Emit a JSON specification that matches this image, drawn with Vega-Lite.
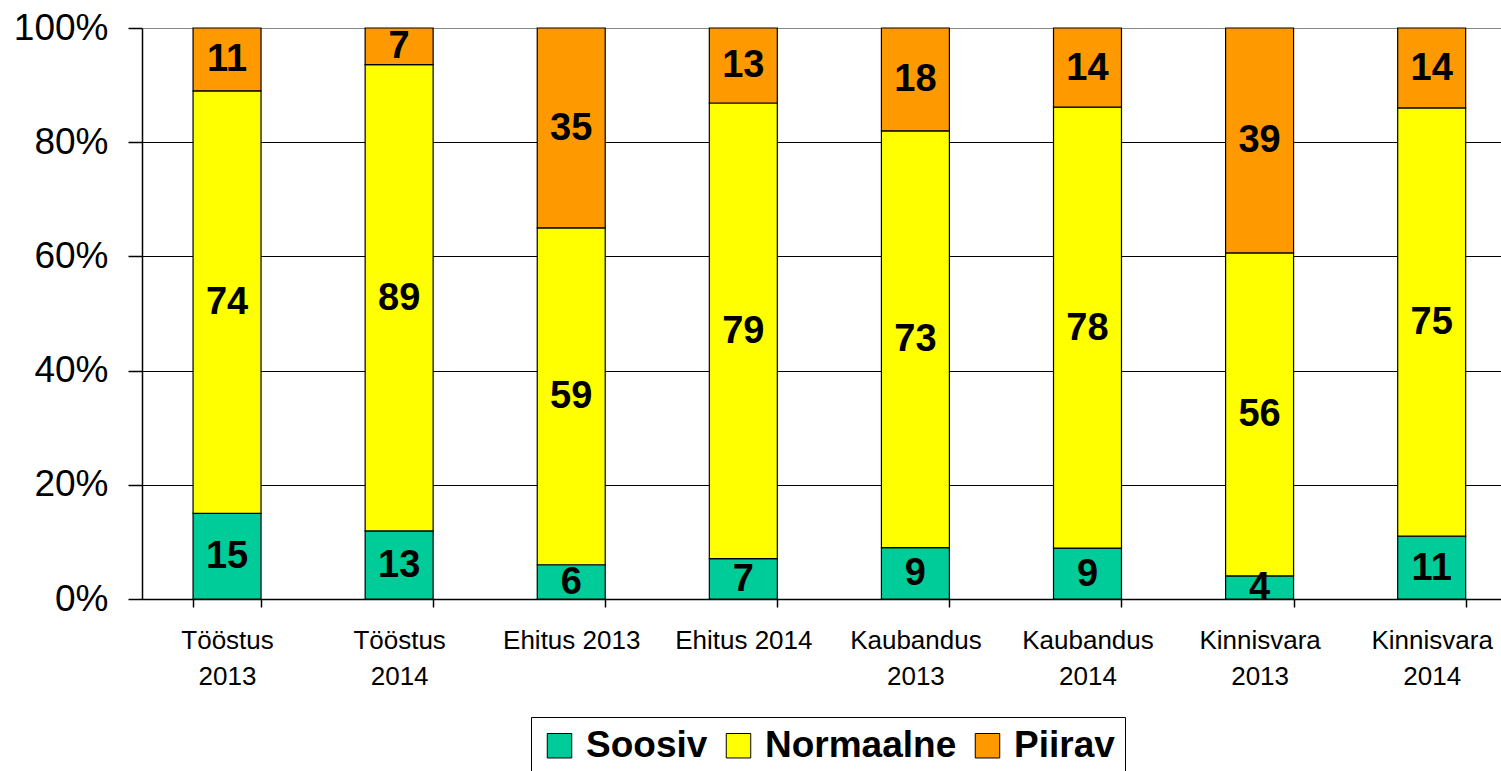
{
  "$schema": "https://vega.github.io/schema/vega-lite/v6.json",
  "width": 1359,
  "height": 571,
  "autosize": "none",
  "padding": {"left": 142, "top": 28, "right": 0, "bottom": 172},
  "background": "white",
  "config": {
    "font": "Liberation Sans",
    "view": {"stroke": null},
    "axis": {"labelColor": "black", "domainColor": "black", "tickColor": "black", "labelFont": "Liberation Sans"}
  },
  "data": {
    "values": [
      {"cat": "Tööstus 2013", "series": "Soosiv", "ord": 1, "value": 15},
      {"cat": "Tööstus 2013", "series": "Normaalne", "ord": 2, "value": 74},
      {"cat": "Tööstus 2013", "series": "Piirav", "ord": 3, "value": 11},
      {"cat": "Tööstus 2014", "series": "Soosiv", "ord": 1, "value": 13},
      {"cat": "Tööstus 2014", "series": "Normaalne", "ord": 2, "value": 89},
      {"cat": "Tööstus 2014", "series": "Piirav", "ord": 3, "value": 7},
      {"cat": "Ehitus 2013", "series": "Soosiv", "ord": 1, "value": 6},
      {"cat": "Ehitus 2013", "series": "Normaalne", "ord": 2, "value": 59},
      {"cat": "Ehitus 2013", "series": "Piirav", "ord": 3, "value": 35},
      {"cat": "Ehitus 2014", "series": "Soosiv", "ord": 1, "value": 7},
      {"cat": "Ehitus 2014", "series": "Normaalne", "ord": 2, "value": 79},
      {"cat": "Ehitus 2014", "series": "Piirav", "ord": 3, "value": 13},
      {"cat": "Kaubandus 2013", "series": "Soosiv", "ord": 1, "value": 9},
      {"cat": "Kaubandus 2013", "series": "Normaalne", "ord": 2, "value": 73},
      {"cat": "Kaubandus 2013", "series": "Piirav", "ord": 3, "value": 18},
      {"cat": "Kaubandus 2014", "series": "Soosiv", "ord": 1, "value": 9},
      {"cat": "Kaubandus 2014", "series": "Normaalne", "ord": 2, "value": 78},
      {"cat": "Kaubandus 2014", "series": "Piirav", "ord": 3, "value": 14},
      {"cat": "Kinnisvara 2013", "series": "Soosiv", "ord": 1, "value": 4},
      {"cat": "Kinnisvara 2013", "series": "Normaalne", "ord": 2, "value": 56},
      {"cat": "Kinnisvara 2013", "series": "Piirav", "ord": 3, "value": 39},
      {"cat": "Kinnisvara 2014", "series": "Soosiv", "ord": 1, "value": 11},
      {"cat": "Kinnisvara 2014", "series": "Normaalne", "ord": 2, "value": 75},
      {"cat": "Kinnisvara 2014", "series": "Piirav", "ord": 3, "value": 14}
    ]
  },
  "encoding": {
    "x": {
      "field": "cat",
      "type": "nominal",
      "sort": null,
      "title": null,
      "scale": {"paddingInner": 0.605, "paddingOuter": 0.251, "align": 0.591},
      "axis": {
        "labelAngle": 0,
        "labelFontSize": 26,
        "labelLineHeight": 36,
        "labelPadding": 20,
        "labelLimit": 300,
        "tickSize": 8,
        "tickBand": "extent",
        "domainWidth": 1.5,
        "tickWidth": 1.5,
        "labelExpr": "indexof(datum.label, 'Ehitus') == 0 ? datum.label : split(datum.label, ' ')"
      }
    }
  },
  "layer": [
    {
      "mark": {"type": "bar", "stroke": "black", "strokeWidth": 1.2},
      "encoding": {
        "y": {
          "field": "value",
          "type": "quantitative",
          "stack": "normalize",
          "title": null,
          "scale": {"domain": [0, 1], "nice": false},
          "axis": {
            "values": [0, 0.2, 0.4, 0.6, 0.8, 1],
            "format": ".0%",
            "labelFontSize": 37,
            "labelPadding": 20,
            "tickSize": 14,
            "tickWidth": 1.5,
            "domainWidth": 1.5,
            "grid": true,
            "gridColor": {"condition": {"test": "datum.value == 1", "value": "#888888"}, "value": "black"},
            "gridWidth": 1.2
          }
        },
        "order": {"field": "ord", "type": "quantitative"},
        "color": {
          "field": "series",
          "type": "nominal",
          "scale": {"domain": ["Soosiv", "Normaalne", "Piirav"], "range": ["#00CC99", "#FFFF00", "#FF9900"]},
          "legend": {
            "title": null,
            "orient": "none",
            "direction": "horizontal",
            "legendX": 389,
            "legendY": 689,
            "padding": 10,
            "strokeColor": "black",
            "fillColor": "white",
            "symbolType": "square",
            "symbolSize": 600,
            "symbolStrokeColor": "black",
            "symbolStrokeWidth": 1,
            "symbolOpacity": 1,
            "labelFontSize": 37,
            "labelFontWeight": "bold",
            "labelColor": "black",
            "labelOffset": 8,
            "columnPadding": 12,
            "labelLimit": 400
          }
        }
      }
    },
    {
      "transform": [
        {"stack": "value", "groupby": ["cat"], "sort": [{"field": "ord", "order": "ascending"}], "offset": "normalize", "as": ["y0", "y1"]},
        {"calculate": "(datum.y0 + datum.y1) / 2", "as": "mid"}
      ],
      "mark": {"type": "text", "font": "Liberation Sans", "fontWeight": "bold", "fontSize": 38, "color": "black", "baseline": "middle", "align": "center", "dy": 1},
      "encoding": {
        "y": {"field": "mid", "type": "quantitative"},
        "text": {"field": "value", "type": "quantitative"}
      }
    }
  ]
}
